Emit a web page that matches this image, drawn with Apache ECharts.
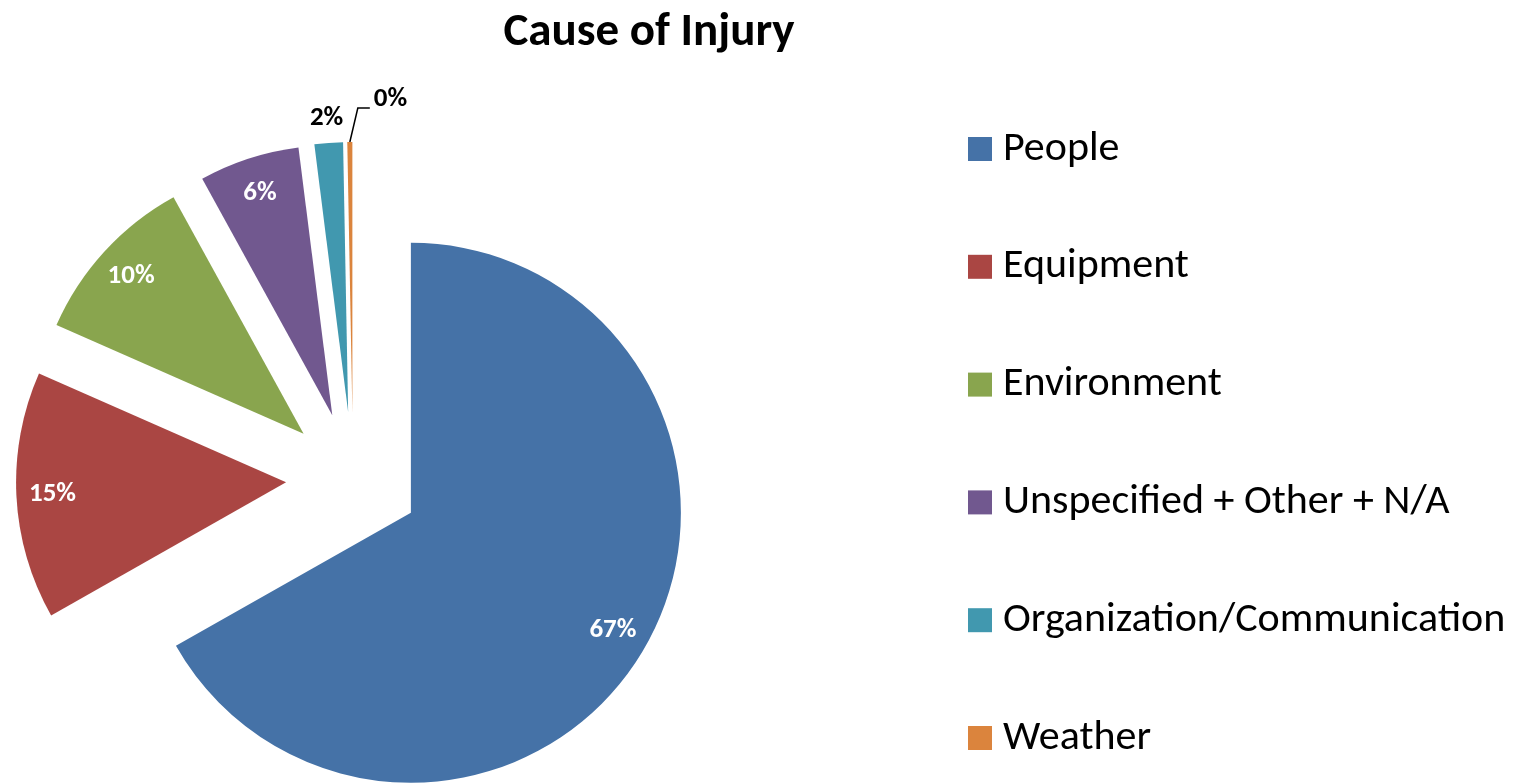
<!DOCTYPE html>
<html>
<head>
<meta charset="utf-8">
<script src="https://cdn.jsdelivr.net/npm/echarts@6/dist/echarts.min.js"></script>
<style>
  html, body { margin: 0; padding: 0; background: #fff; }
  #chart { width: 1534px; height: 783px; }
</style>
</head>
<body>
<div id="chart"></div>
<script>
// chart data
const categories = ['People', 'Equipment', 'Environment', 'Unspecified + Other + N/A', 'Organization/Communication', 'Weather'];
const values = [66.8, 14.8, 10.4, 6.0, 1.7, 0.3];
const colors = ['#4572A7', '#AA4643', '#89A54E', '#71588F', '#4198AF', '#DB843D'];

const FONT = 'Carlito, Calibri, "Open Sans", sans-serif';
const CENTER = [353, 479];
const RADIUS = 270;
const EXPLODE = 67;

const chart = echarts.init(document.getElementById('chart'));

const pct = p => Math.round(p.percent) + '%';

// how far a slice is pushed out (same as selectedOffset), from its mid angle
const total = values.reduce((a, b) => a + b, 0);
function explodeShift(i) {
  let acc = 0;
  for (let k = 0; k < i; k++) acc += values[k];
  const a = (acc + values[i] / 2) / total * Math.PI * 2;
  return [EXPLODE * Math.sin(a), -EXPLODE * Math.cos(a)];
}

const mainData = categories.map((name, i) => ({
  name: name,
  value: values[i],
  selected: true,
  itemStyle: { color: colors[i] }
}));

// transparent copy, exploded too, bigger radius so the inside labels sit near the rim
const innerLabelData = categories.map((name, i) => ({
  name: name,
  value: values[i],
  selected: true,
  label: { show: i < 4 }
}));

// transparent copy, not exploded, for the two small outside labels
const outerLabelData = categories.map((name, i) => ({
  name: name,
  value: values[i],
  label: { show: i >= 4 },
  labelLine: { show: i === 5 }
}));

const labelFont = { fontFamily: FONT, fontSize: 27, fontWeight: 'bold' };

chart.setOption({
  animation: false,
  title: {
    text: 'Cause of Injury',
    left: 649,
    top: 10,
    padding: 0,
    textAlign: 'center',
    textStyle: { fontFamily: FONT, fontSize: 47, fontWeight: 'bold', color: '#000' }
  },
  legend: {
    orient: 'vertical',
    left: 968,
    top: 127,
    padding: 0,
    itemWidth: 24,
    itemHeight: 24,
    itemGap: 73.8,
    icon: 'rect',
    data: categories,
    textStyle: { fontFamily: FONT, fontSize: 42, lineHeight: 44, color: '#000', padding: [0, 0, 0, 6] }
  },
  series: [
    {
      type: 'pie',
      center: CENTER,
      radius: RADIUS,
      startAngle: 90,
      selectedMode: 'multiple',
      selectedOffset: EXPLODE,
      emphasis: { disabled: true },
      label: { show: false },
      labelLine: { show: false },
      data: mainData
    },
    {
      type: 'pie',
      center: CENTER,
      radius: [0, RADIUS * 1.71],
      startAngle: 90,
      silent: true,
      selectedMode: 'multiple',
      selectedOffset: EXPLODE,
      emphasis: { disabled: true },
      itemStyle: { color: 'rgba(0,0,0,0)' },
      labelLine: { show: false },
      data: innerLabelData,
      label: Object.assign({ position: 'inside', formatter: pct, color: '#fff' }, labelFont)
    },
    {
      type: 'pie',
      center: CENTER,
      radius: RADIUS,
      startAngle: 90,
      silent: true,
      avoidLabelOverlap: false,
      emphasis: { disabled: true },
      itemStyle: { color: 'rgba(0,0,0,0)' },
      data: outerLabelData,
      label: Object.assign({ position: 'outside', formatter: pct, color: '#000' }, labelFont),
      labelLine: { lineStyle: { color: '#000', width: 1.5 } },
      labelLayout: function (p) {
        const s = explodeShift(p.dataIndex);
        const r = p.rect;
        const cx = r.x + r.width / 2 + s[0];
        const top = r.y + s[1];
        if (p.dataIndex === 4) {
          return { x: cx + 12, y: top - 24, align: 'right', verticalAlign: 'middle' };
        }
        if (p.dataIndex === 5) {
          return {
            x: cx + 24, y: top - 43, align: 'left', verticalAlign: 'middle',
            labelLinePoints: [[cx, top], [cx + 8, top - 34], [cx + 20, top - 34]]
          };
        }
      }
    }
  ]
});
</script>
</body>
</html>
